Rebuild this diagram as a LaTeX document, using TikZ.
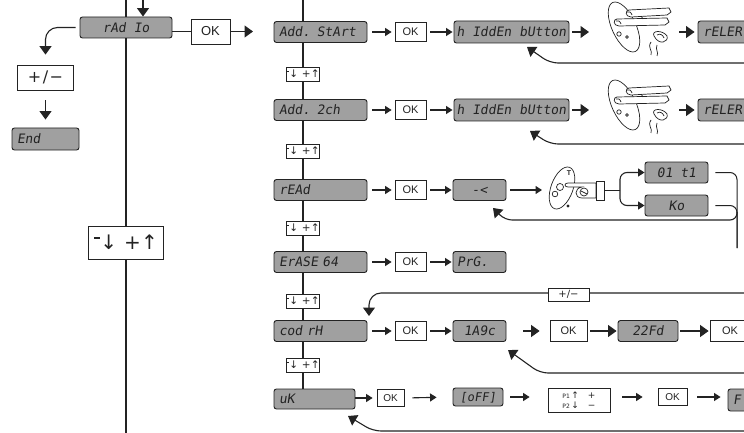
\documentclass[tikz,border=0pt]{standalone}
\usepackage{fontspec}
\setmainfont{Liberation Sans}
\newfontfamily\lcdfont[FakeSlant=0.15]{DejaVu Sans Mono}
\newfontfamily\symfont{DejaVu Sans}
\usetikzlibrary{arrows.meta}
\definecolor{lcdgray}{RGB}{160,160,160}
\definecolor{ink}{RGB}{35,35,35}
\newcommand\dnup{\rule[.55em]{.28em}{.08em}\kern.03em↓\hspace{.35em}+\kern.02em↑}
\tikzset{
  lcd/.style={draw=ink, fill=lcdgray, rounded corners=2.5pt, line width=0.9pt, inner sep=0pt,
    font=\lcdfont\fontsize{13}{13}\selectfont, text=ink, text height=9.5pt, text depth=0pt},
  lcdl/.style={lcd, align=left, inner xsep=5pt},
  wbox/.style={draw=ink, fill=white, line width=0.8pt, inner sep=0pt, text=ink},
  okbox/.style={wbox, minimum width=31pt, minimum height=19pt, font=\fontsize{11}{11}\selectfont},
  sbox/.style={wbox, minimum width=33pt, minimum height=14pt, font=\symfont\fontsize{10.5}{10.5}\selectfont},
  arr/.style={-{Triangle[length=6.5pt,width=8pt]}, line width=1.1pt, draw=ink},
  bigarr/.style={-{Triangle[length=8.5pt,width=12pt]}, line width=1.1pt, draw=ink},
  wire/.style={line width=1.3pt, draw=ink},
  thinwire/.style={line width=1pt, draw=ink},
  sketch/.style={line width=0.7pt, draw=ink},
  pics/presshand/.style={code={
    \draw[sketch] (17,27) ellipse [x radius=12, y radius=27, rotate=25];
    \draw[sketch] (12,34) circle [radius=2.2];
    \draw[sketch] (20,37) circle [radius=1.3];
    \draw[sketch, fill=white] (22,10) -- (62,8) -- (64,12) -- (60,15) -- (24,17) .. controls (18,17) and (18,10) .. (22,10);
    \draw[sketch] (20,12) .. controls (22,11) and (24,12) .. (25,15);
    \draw[sketch, fill=white] (10,19) -- (60,18) -- (62,22) -- (58,25) -- (12,26) .. controls (6,26) and (6,19) .. (10,19);
    \draw[sketch] (9,21) .. controls (11,20) and (13,21) .. (14,24);
    \draw[sketch] (34,16) -- (36,19);
    \draw[sketch, fill=white] (47,36) .. controls (44,30) and (56,30) .. (60,36) .. controls (62,42) and (52,46) .. (47,36);
    \draw[sketch] (50,35) .. controls (53,33) and (56,35) .. (57,38);
    \draw[sketch] (44,42) .. controls (40,48) and (46,50) .. (44,55);
    \draw[sketch] (50,45) .. controls (48,50) and (52,52) .. (50,56);
  }},
  pics/remotehand/.style={code={
    \draw[sketch] (14,22) ellipse [x radius=11, y radius=22, rotate=-20];
    \node[inner sep=0pt, font=\bfseries\fontsize{7}{7}\selectfont, text=ink] at (21,7) {T};
    \draw[sketch] (12,21) circle [radius=3.5];
    \draw[sketch] (7,28) circle [radius=2.8];
    \fill[ink] (20,40) circle [radius=1.6];
    \draw[sketch, fill=white] (48,17) -- (20,17) .. controls (16,17) and (16,21) .. (20,21) -- (34,21)
       .. controls (26,22) and (26,32) .. (34,32) -- (48,32) -- cycle;
    \draw[sketch] (36,26) circle [radius=4];
    \draw[sketch] (33,25) -- (39,28);
    \draw[sketch, fill=white] (48,15) rectangle (56,34);
  }},
}
\begin{document}
\begin{tikzpicture}[x=1pt,y=-1pt]
\useasboundingbox (0,0) rectangle (744,433);
\fill[white] (0,0) rectangle (744,433);
% ---------- left column ----------
\node[lcd, minimum width=92pt, minimum height=21pt] (radio) at (126,27.5) {rAd Io};
\node[wbox, minimum width=56pt, minimum height=25pt, font=\symfont\fontsize{16}{16}\selectfont] (pm) at (45.5,77.5) {+\kern1.5pt/\kern1.5pt−};
\node[lcdl, minimum width=67pt, text width=57pt, minimum height=22pt] (end) at (45.5,139) {End};
\node[okbox, minimum width=39pt, minimum height=25pt, font=\fontsize{13}{13}\selectfont] (ok0) at (210.5,31.5) {OK};
\node[wbox, minimum width=75pt, minimum height=33pt, font=\symfont\fontsize{20}{20}\selectfont] (bigpm) at (126,242.5) {\dnup};
\coordinate (mtop) at (126,0);
\coordinate (mbot) at (126,433);
\coordinate (atop) at (143,0);
\coordinate (a0) at (253,31.5);
\draw[wire] (mtop) -- (radio.north);
\draw[wire] (radio.south) -- (bigpm.north);
\draw[wire] (bigpm.south) -- (mbot);
\draw[bigarr] (atop) -- (atop |- radio.north);
\draw[bigarr, rounded corners=12pt, shorten <=4pt, shorten >=10pt] (radio.west) -| (pm.north);
\draw[bigarr, shorten <=10pt, shorten >=8pt] (pm.south) -- (end.north);
\draw[thinwire] (radio.east |- ok0.west) -- (ok0.west);
\draw[bigarr] (ok0.east) -- (a0);
% ---------- menu column ----------
\node[lcdl, minimum width=93pt, text width=83pt, minimum height=21pt] (r1) at (320.5,32) {Add. StArt};
\node[lcdl, minimum width=93pt, text width=83pt, minimum height=21pt] (r2) at (320.5,110) {Add. 2ch};
\node[lcdl, minimum width=93pt, text width=83pt, minimum height=21pt] (r3) at (320.5,190) {rEAd};
\node[lcdl, minimum width=93pt, text width=83pt, minimum height=21pt] (r4) at (320.5,262) {ErASE 64};
\node[lcdl, minimum width=93pt, text width=83pt, minimum height=21pt] (r5) at (320.5,331) {cod rH};
\node[lcdl, minimum width=81pt, text width=71pt, minimum height=20pt] (r6) at (314.5,399) {uK};
\node[sbox] (s1) at (303,74) {\dnup};
\node[sbox] (s2) at (303,151) {\dnup};
\node[sbox] (s3) at (303,228) {\dnup};
\node[sbox] (s4) at (303,301) {\dnup};
\node[sbox] (s5) at (303,365) {\dnup};
\coordinate (ctop) at (303,0);
\draw[wire] (ctop) -- (ctop |- r1.north);
\draw[wire] (ctop |- r1.south) -- (s1.north);
\draw[wire] (s1.south) -- (s1.south |- r2.north);
\draw[wire] (ctop |- r2.south) -- (s2.north);
\draw[wire] (s2.south) -- (s2.south |- r3.north);
\draw[wire] (ctop |- r3.south) -- (s3.north);
\draw[wire] (s3.south) -- (s3.south |- r4.north);
\draw[wire] (ctop |- r4.south) -- (s4.north);
\draw[wire] (s4.south) -- (s4.south |- r5.north);
\draw[wire] (ctop |- r5.south) -- (s5.north);
\draw[wire] (s5.south) -- (s5.south |- r6.north);
% ---------- OK column ----------
\node[okbox] (ok1) at (410.5,32) {OK};
\node[okbox] (ok2) at (410.5,110) {OK};
\node[okbox] (ok3) at (410.5,190) {OK};
\node[okbox] (ok4) at (410.5,262) {OK};
\node[okbox] (ok5) at (410.5,331) {OK};
\node[okbox, minimum width=27pt, minimum height=17pt, font=\fontsize{10}{10}\selectfont] (ok6) at (390.5,398) {OK};
\foreach \i in {1,...,5}{
  \draw[arr, shorten <=5pt, shorten >=3pt] (r\i.east) -- (ok\i.west);
}
% ---------- row 1 ----------
\node[lcd, minimum width=115pt, minimum height=22pt] (hb1) at (511.5,32) {h IddEn bUtton};
\pic at (607,0) {presshand};
\node[lcdl, minimum width=70pt, text width=60pt, minimum height=22pt] (rel1) at (733,32) {rELER};
\coordinate (h1i) at (589,32);
\coordinate (h1o) at (679,32);
\draw[arr, shorten <=4pt, shorten >=1pt] (ok1.east) -- (hb1.west);
\draw[bigarr, shorten <=3pt] (hb1.east) -- (h1i);
\draw[bigarr, shorten >=3pt] (h1o) -- (rel1.west);
\coordinate (b1s) at (750,63); \coordinate (b1k) at (550,63); \coordinate (b1t) at (527,47);
\draw[bigarr, rounded corners=8pt] (b1s) -- (b1k) -- (b1t);
% ---------- row 2 ----------
\node[lcd, minimum width=115pt, minimum height=22pt] (hb2) at (511.5,110) {h IddEn bUtton};
\pic at (607,78) {presshand};
\node[lcdl, minimum width=70pt, text width=60pt, minimum height=22pt] (rel2) at (733,110) {rELER};
\coordinate (h2i) at (589,110);
\coordinate (h2o) at (679,110);
\draw[arr, shorten <=4pt, shorten >=1pt] (ok2.east) -- (hb2.west);
\draw[bigarr, shorten <=3pt] (hb2.east) -- (h2i);
\draw[bigarr, shorten >=3pt] (h2o) -- (rel2.west);
\coordinate (b2s) at (750,144); \coordinate (b2k) at (550,144); \coordinate (b2t) at (530,131);
\draw[bigarr, rounded corners=8pt] (b2s) -- (b2k) -- (b2t);
% ---------- row 3 ----------
\node[lcd, minimum width=53pt, minimum height=21pt] (rd3) at (479.5,190) {-<};
\pic at (548,166) {remotehand};
\node[lcd, minimum width=63pt, minimum height=21pt] (t01) at (676.5,172.5) {01 t1};
\node[lcd, minimum width=63pt, minimum height=21pt] (ko) at (676.5,205.5) {Ko};
\coordinate (h3i) at (542,190);
\coordinate (h3o) at (605,190);
\coordinate (j3) at (620,190);
\draw[arr, shorten <=4pt, shorten >=1pt] (ok3.east) -- (rd3.west);
\draw[arr, shorten <=4pt] (rd3.east) -- (h3i);
\draw[thinwire] (h3o) -- (j3);
\draw[arr, rounded corners=7pt] (j3) |- (t01.west);
\draw[arr, rounded corners=7pt] (j3) |- (ko.west);
\coordinate (vb) at (737,248);
\coordinate (vm) at (737,212);
\draw[thinwire, rounded corners=7pt] ([xshift=7pt]t01.east) -| (vb);
\draw[thinwire, rounded corners=7pt] ([xshift=7pt]ko.east) -| (vb);
\coordinate (b3k) at (505,220); \coordinate (b3t) at (493,208);
\draw[bigarr, rounded corners=7pt] (vm) |- (b3k) -- (b3t);
% ---------- row 4 ----------
\node[lcdl, minimum width=53pt, text width=45pt, inner xsep=4pt, minimum height=21pt] (prg4) at (479.5,262) {PrG.};
\draw[arr, shorten <=4pt, shorten >=1pt] (ok4.east) -- (prg4.west);
% ---------- row 5 ----------
\node[lcd, minimum width=53pt, minimum height=21pt] (c5) at (479.5,331) {1A9c};
\node[okbox, minimum width=37pt, minimum height=21pt] (ok5b) at (568.5,331) {OK};
\node[lcd, minimum width=60pt, minimum height=21pt] (fd5) at (648,331) {22Fd};
\node[okbox, minimum width=40pt, minimum height=21pt] (ok5c) at (730,331) {OK};
\draw[arr, shorten <=4pt, shorten >=1pt] (ok5.east) -- (c5.west);
\draw[bigarr, shorten <=17pt, shorten >=10pt] (c5.east) -- (ok5b.west);
\draw[bigarr, shorten <=3pt, shorten >=1pt] (ok5b.east) -- (fd5.west);
\draw[bigarr, shorten <=2pt, shorten >=1pt] (fd5.east) -- (ok5c.west);
\coordinate (p5s) at (750,293); \coordinate (p5t) at (369,316);
\draw[bigarr, rounded corners=12pt] (p5s) -| (p5t);
\node[wbox, minimum width=41pt, minimum height=13pt, font=\symfont\fontsize{10}{10}\selectfont] (pm5) at (568.5,294.5) {+/−};
\coordinate (b5s) at (750,373); \coordinate (b5k) at (540,373); \coordinate (b5t) at (508,350);
\draw[bigarr, rounded corners=8pt] (b5s) -- (b5k) -- (b5t);
% ---------- row 6 ----------
\node[lcd, minimum width=50pt, minimum height=18pt, font=\lcdfont\fontsize{12}{12}\selectfont] (off6) at (478,397) {[oFF]};
\node[wbox, minimum width=62pt, minimum height=24pt, align=left, font=\symfont\fontsize{9}{10.5}\selectfont] (p6) at (579,400)
  {{\fontsize{6}{6}\selectfont P1}\,↑\quad+\\{\fontsize{6}{6}\selectfont P2}\,↓\quad−};
\node[okbox, minimum width=29pt, minimum height=17pt, font=\fontsize{10}{10}\selectfont] (ok6b) at (672.5,397) {OK};
\node[lcdl, minimum width=60pt, text width=50pt, minimum height=22pt] (f6) at (758,400) {F};
\draw[arr, shorten >=4pt] (r6.east |- ok6.west) -- (ok6.west);
\draw[arr, shorten <=8pt, shorten >=16pt] (ok6.east) -- (off6.west);
\draw[arr, shorten <=7pt, shorten >=18pt] (off6.east) -- (off6.east -| p6.west);
\draw[arr, shorten <=12pt, shorten >=15pt] (p6.east |- ok6b.west) -- (ok6b.west);
\draw[arr, shorten <=10pt, shorten >=7pt] (ok6b.east) -- (ok6b.east -| f6.west);
\coordinate (b6s) at (750,431); \coordinate (b6k) at (373,431); \coordinate (b6t) at (348,416);
\draw[bigarr, rounded corners=8pt] (b6s) -- (b6k) -- (b6t);
\end{tikzpicture}
\end{document}
